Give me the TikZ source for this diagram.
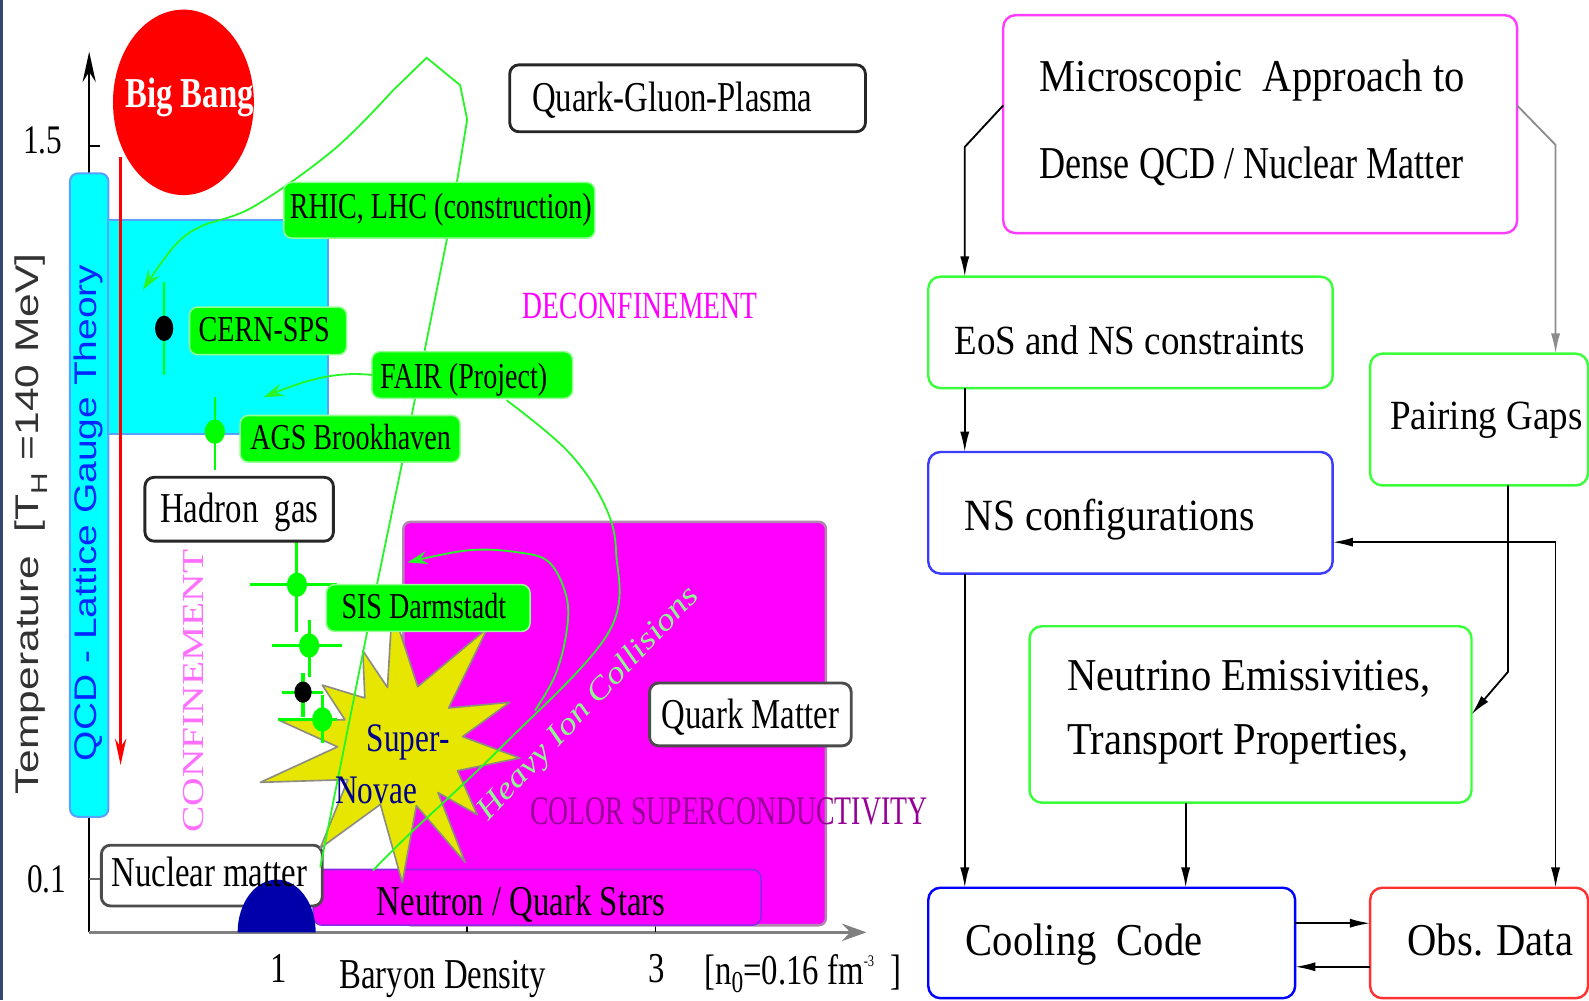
\documentclass[tikz,border=0pt]{standalone}
\usepackage{fontspec}
\usepackage{graphicx}
\setmainfont{Liberation Serif}
\newfontfamily\lfont[FakeStretch=0.77]{Liberation Serif}
\newfontfamily\rfont[FakeStretch=0.89]{Liberation Serif}
\newfontfamily\sfont{Liberation Sans}
\usetikzlibrary{arrows.meta,shapes.geometric}
\newcommand\sz[1]{\fontsize{#1}{#1}\selectfont}

\definecolor{cyanfill}{RGB}{0,255,255}
\definecolor{cyanedge}{RGB}{90,160,255}
\definecolor{labgreen}{RGB}{0,255,0}
\definecolor{labedge}{RGB}{150,255,150}
\definecolor{trackgreen}{RGB}{40,245,40}
\definecolor{mag}{RGB}{255,0,255}
\definecolor{magedge}{RGB}{175,135,175}
\definecolor{nsedge}{RGB}{140,40,230}
\definecolor{discblue}{RGB}{0,0,170}
\definecolor{staryellow}{RGB}{230,230,0}
\definecolor{staredge}{RGB}{140,140,130}
\definecolor{sncol}{RGB}{0,0,140}
\definecolor{confpink}{RGB}{255,110,255}
\definecolor{csccol}{RGB}{150,0,150}
\definecolor{hiccol}{RGB}{140,250,140}
\definecolor{latblue}{RGB}{0,40,255}
\definecolor{edgebar}{RGB}{50,70,110}
\definecolor{bmag}{RGB}{255,60,255}
\definecolor{bgreen}{RGB}{60,255,60}
\definecolor{bblue}{RGB}{60,60,255}
\definecolor{bred}{RGB}{255,50,50}

\tikzset{
  every node/.style={inner sep=0pt, outer sep=0pt},
  rbox/.style={draw, fill=white, line width=2.4pt, rounded corners=12pt},
  gbox/.style={fill=labgreen, draw=labedge, line width=1.5pt, rounded corners=8pt},
  wbox/.style={fill=white, draw=black!85, line width=2.8pt, rounded corners=9pt},
  track/.style={draw=trackgreen, line width=1.8pt},
  trackarrow/.style={-{Stealth[length=20pt,width=13pt,inset=7pt]}},
  crossline/.style={draw=labgreen, line width=3pt},
  gdot/.style={ellipse, fill=labgreen, minimum width=20, minimum height=24},
  bdot/.style={ellipse, fill=black, minimum width=18, minimum height=25},
  flow/.style={draw=black, line width=1.8pt, -{Latex[length=20pt,width=9pt]}},
  ltext/.style={font=\lfont\sz{42}, anchor=base west},
  labtext/.style={font=\lfont\sz{36}, anchor=base west},
  rtext/.style={font=\rfont\sz{45}, anchor=base west},
}

\begin{document}
\begin{tikzpicture}[x=1pt,y=-1pt]
\path[use as bounding box, fill=white] (0,0) rectangle (1568,987);
\fill[edgebar] (0,0) rectangle (2.5,987);

% ---------------- phase diagram: axes ----------------
\coordinate (origin) at (88,920);
\coordinate (ytop) at (88,51);
\coordinate (xend) at (855,920);
\draw[line width=2pt, -{Stealth[length=30pt,width=13pt,inset=10pt]}] (origin) -- (ytop);
\draw[black!50, line width=3.5pt, -{Stealth[length=24pt,width=17pt,inset=8pt]}] (origin) -- (xend);
\draw[line width=1.8pt] (88,144) -- (99,144);
\draw[black!60, line width=2pt] (88,867) -- (100,867);
\draw[line width=1.6pt] (274,902) -- (274,920);
\draw[line width=1.6pt] (461,905) -- (461,920);
\draw[line width=1.6pt] (647,905) -- (647,920);

% ---------------- regions ----------------
\node[fill=cyanfill, draw=cyanedge, line width=2pt, rounded corners=8pt,
      minimum width=38, minimum height=635] (lattice) at (88,488.5) {};
\node[fill=cyanfill, draw=cyanedge, line width=2pt,
      minimum width=217, minimum height=211] (hotzone) at (215.5,322.5) {};
\node[fill=mag, draw=magedge, line width=2.5pt, rounded corners=7pt,
      minimum width=417, minimum height=398] (cscreg) at (606.5,714) {};
\node[fill=mag, draw=nsedge, line width=1.5pt, rounded corners=9pt,
      minimum width=442, minimum height=55] (nsreg) at (530,885.5) {};
\node[wbox, draw=black!70, minimum width=218, minimum height=60] (nucbox) at (209,864) {};
\fill[discblue] (234.5,920) arc[start angle=180, end angle=360, x radius=38.5, y radius=52] -- cycle;

% Big Bang and cooling arrow
\node[ellipse, fill=red, minimum width=139, minimum height=183] (bigbang) at (181,101) {};
\coordinate (coolstart) at (119,155);
\coordinate (coolend) at (119,755);
\draw[red, line width=3pt, -{Stealth[length=26pt,width=11pt]}] (coolstart) -- (coolend);

% supernova star
\begin{scope}[shift={(395,735)}]
\filldraw[fill=staryellow, draw=staredge, line width=1.6pt, line join=round]
 (-8,-135) -- (-73.3:60) -- (86,-115) -- (-37.3:60) -- (108,-42) -- (-7.5:62)
 -- (118,13) -- (24.3:62) -- (76,69) -- (51.7:60) -- (64,116) -- (75.2:62)
 -- (2,136) -- (108.5:62) -- (-79,102) -- (-213.6:62) -- (-138,37) -- (-181.8:62)
 -- (-119,-24) -- (-155.6:60) -- (-77,-59) -- (-127.1:58) -- (-37,-93) -- (-102.6:58) -- cycle;
\end{scope}

% ---------------- experimental trajectories ----------------
\draw[track, trackarrow] (316,856) -- (362,625) -- (397,456) -- (441,236) -- (451,179)
  -- (461,118) -- (454,84) -- (421,57) -- (388,89)
  -- plot[smooth, tension=0.6] coordinates {(388,89) (329,148) (250,204) (197,224) (171,244) (141,286)};
\draw[track] plot[smooth, tension=0.6] coordinates
  {(500,395) (559,444) (595,495) (608,545) (600,625) (494,738) (402,825) (368,859)};
\draw[track, trackarrow] plot[smooth, tension=0.6] coordinates
  {(528,701) (548,666) (559,624) (559,589) (542,555) (511,545) (462,543) (402,555)};

% ---------------- data points ----------------
\draw[labgreen, line width=2pt] (162,278) -- (162,370);
\node[bdot] (spsdot) at (162,324) {};
\draw[labgreen, line width=2pt] (212,392) -- (212,464);
\node[gdot] (agsdot) at (212,426) {};
\draw[crossline] (247,577) -- (333,577);
\draw[crossline] (293,534) -- (293,624);
\node[gdot] (sisdot) at (293,577) {};
\draw[crossline] (268,637) -- (337,637);
\draw[crossline] (305,612) -- (305,668);
\node[gdot] (lowdotA) at (305,637) {};
\draw[crossline] (278,683) -- (319,683);
\draw[crossline] (299,664) -- (299,708);
\node[bdot, minimum width=17, minimum height=21] (lowdotB) at (299,683) {};
\draw[crossline] (274,710) -- (333,710);
\draw[crossline] (318,686) -- (318,733);
\node[gdot] (lowdotC) at (318,710) {};

% FAIR arrow into the hot zone
\coordinate (fairtip) at (260,392);

% ---------------- labels ----------------
\node[gbox, minimum width=307, minimum height=55] (rhic) at (433.5,207.5) {};
\node[gbox, minimum width=155, minimum height=47] (sps) at (264.5,326.5) {};
\node[gbox, minimum width=198, minimum height=46] (fair) at (466,370) {};
\node[gbox, minimum width=217, minimum height=46] (ags) at (345.5,433) {};
\node[gbox, minimum width=201, minimum height=46] (sis) at (422.5,600) {};
\draw[track, trackarrow] (fair.west) .. controls (330,366) and (300,376) .. (fairtip);

\node[wbox, minimum width=351, minimum height=66] (qgp) at (678.5,97) {};
\node[wbox, minimum width=186, minimum height=63] (hadron) at (236,502.5) {};
\node[wbox, draw=black!70, minimum width=199, minimum height=62] (qmatter) at (740.5,705) {};

\node[labtext] (rhictxt) at (286,216) {RHIC, LHC (construction)};
\node[labtext] (spstxt) at (196,337) {CERN-SPS};
\node[labtext] (fairtxt) at (375,383) {FAIR (Project)};
\node[labtext] (agstxt) at (247,444) {AGS Brookhaven};
\node[labtext] (sistxt) at (337,610) {SIS Darmstadt};

\node[ltext] (qgptxt) at (525,110) {Quark-Gluon-Plasma};
\node[ltext] (hadtxt) at (158,516) {Hadron\ \ gas};
\node[ltext] (nuctxt) at (110,875) {Nuclear matter};
\node[ltext] (qmtxt) at (653,719) {Quark Matter};
\node[ltext, font=\lfont\sz{42}] (nstxt) at (372,903) {Neutron / Quark Stars};
\node[ltext] (bdtxt) at (335,975) {Baryon Density};
\node[ltext] (unittxt) at (695,971)
  {[n\raisebox{-8pt}{\sz{30}0}=0.16 fm\raisebox{17pt}{\sz{16}-3}\ \ ]};
\node[font=\lfont\sz{42}] (xone) at (275,956) {1};
\node[font=\lfont\sz{42}] (xthree) at (648,956) {3};
\node[font=\lfont\sz{40}] (yhigh) at (42,139) {1.5};
\node[font=\lfont\sz{40}] (ylow) at (46,868) {0.1};

\node[font=\lfont\bfseries\sz{42}, text=white] (bbtxt) at (187,96) {Big Bang};
\node[ltext, font=\lfont\sz{40}, text=sncol] (sntxtA) at (362,742) {Super-};
\node[ltext, font=\lfont\sz{40}, text=sncol] (sntxtB) at (331,793) {Novae};

\node[anchor=base west, text=mag, font=\lfont\sz{38}] (deconf) at (516,314)
  {\scalebox{0.93}[1]{DECONFINEMENT}};
\node[anchor=base west, text=csccol, font=\lfont\sz{40}] (csc) at (523,814)
  {\scalebox{0.89}[1]{COLOR SUPERCONDUCTIVITY}};
\node[rotate=90, text=confpink, font=\sz{39}] (conf) at (191,682)
  {\scalebox{1}[0.77]{CONFINEMENT}};
\node[rotate=46.7, text=hiccol, font=\itshape\sz{36}] (hic) at (581,695)
  {\scalebox{1}[0.85]{Heavy Ion Collisions}};
\node[rotate=90, text=latblue, font=\sfont\sz{38.5}] (qcdtxt) at (87,506)
  {\scalebox{1}[0.8]{QCD - Lattice Gauge Theory}};
\node[rotate=90, text=black!80, font=\sfont\sz{42}] (ylabel) at (31,517)
  {\scalebox{1}[0.77]{Temperature\ \ [T\textsubscript{H} =140 MeV]}};

% ---------------- cooling simulation flow chart ----------------
\node[rbox, draw=bmag, minimum width=507, minimum height=215] (micro) at (1243.5,122.5) {};
\node[rbox, draw=bgreen, minimum width=399, minimum height=110] (eos) at (1115.5,328) {};
\node[rbox, draw=bgreen, minimum width=215, minimum height=130] (pair) at (1459.5,414) {};
\node[rbox, draw=bblue, minimum width=399, minimum height=120] (ns) at (1115.5,506) {};
\node[rbox, draw=bgreen, minimum width=436, minimum height=174] (neu) at (1234,705) {};
\node[rbox, draw=blue, minimum width=362, minimum height=109] (cool) at (1097,930.5) {};
\node[rbox, draw=bred, minimum width=215, minimum height=109] (obs) at (1459.5,930.5) {};

\node[rtext] (microA) at (1026,90) {Microscopic\ \ Approach to};
\node[rtext] (microB) at (1026,176) {\scalebox{0.89}[1]{Dense QCD / Nuclear Matter}};
\node[rtext, font=\rfont\sz{41}] (eostxt) at (942,350) {EoS and NS constraints};
\node[rtext, font=\rfont\sz{41}] (pairtxt) at (1372,424) {Pairing Gaps};
\node[rtext, font=\rfont\sz{44}] (nstxtR) at (952,523) {NS configurations};
\node[rtext] (neuA) at (1053,681) {Neutrino Emissivities,};
\node[rtext] (neuB) at (1053,745) {Transport Properties,};
\node[rtext] (cooltxt) at (953,943) {Cooling\ \ Code};
\node[rtext] (obstxt) at (1389,943) {Obs. Data};

\coordinate (bendL) at (952,145);
\coordinate (bendR) at (1535,143);
\coordinate (pairdown) at (1488,663);
\coordinate (obscorner) at (1535,535);
\coordinate (neucol) at (1170,0);
\coordinate (rowA) at (0,911);
\coordinate (rowB) at (0,954);

\draw[flow] ([yshift=18.5pt]micro.west) -- (bendL) -- (bendL |- eos.north);
\draw[flow, draw=black!45] ([yshift=18.5pt]micro.east) -- (bendR) -- (bendR |- pair.north);
\draw[flow] (bendL |- eos.south) -- (bendL |- ns.north);
\draw[flow] (bendL |- ns.south) -- (bendL |- cool.north);
\draw[flow] (pairdown |- pair.south) -- (pairdown) -- (neu.east);
\draw[flow, {Latex[length=20pt,width=9pt]}-{Latex[length=20pt,width=9pt]}]
  (ns.east |- obscorner) -- (obscorner) -- (obscorner |- obs.north);
\draw[flow] (neucol |- neu.south) -- (neucol |- cool.north);
\draw[flow] (cool.east |- rowA) -- (obs.west |- rowA);
\draw[flow] (obs.west |- rowB) -- (cool.east |- rowB);
\end{tikzpicture}
\end{document}
